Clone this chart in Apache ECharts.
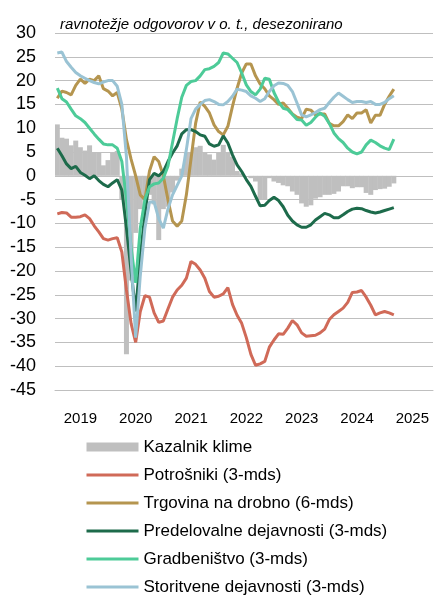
<!DOCTYPE html>
<html>
<head>
    <meta charset="utf-8">
    <title>Kazalniki zaupanja</title>
    <script src="https://cdn.jsdelivr.net/npm/echarts@6/dist/echarts.min.js"></script>
    <style type="text/css">
        html, body { margin: 0; padding: 0; background: #fff; }
        #chart { width: 434px; height: 597px; }
    </style>
</head>
<body>
    <div id="chart"></div>
    <script type="text/javascript">
        // os x: meseci jan 2019 - okt 2025 (podatki do feb 2025)
        var categories = [];
        for (var y = 2019; y <= 2025; y++) {
            for (var m = 1; m <= 12; m++) {
                if (y === 2025 && m > 10) break;
                categories.push(y + '-' + (m < 10 ? '0' + m : m));
            }
        }
        var yearLabels = ['2019', '2020', '2021', '2022', '2023', '2024', '2025'];

        var klima = [10.8, 8, 7.8, 6.4, 7.4, 6, 5.3, 6.4, 5, 4.8, 2.2, 3.3, 5, 5.2,
            -5, -37.5, -22, -12, -7, -4.5, -4, -6, -13.5, -7, -6.5, -3.5,
            -1, 1.5, 5, 5, 6, 6.3, 5, 4.5, 3.4, 4.8, 6.5, 5,
            4, 1, 0.5, 0, -0.5, -1.2, -5, -5, -0.5, -1.2, -1.5, -2,
            -2.2, -3.3, -4, -5.8, -6.5, -6.2, -4.8, -4.5, -4, -4, -3.8, -3.3,
            -2.2, -2.2, -2.6, -2.4, -2.4, -3.6, -4, -3, -2.8, -2.7, -2.3, -1.6];
        var potrosniki = [-8, -7.7, -7.8, -8.7, -8.7, -8.6, -8.2, -9, -10.5, -11.8, -13.2, -13.5, -13.2, -13,
            -16, -24, -31, -35, -28.5, -25.2, -25.5, -28.8, -30.8, -30.5, -28, -25.5,
            -24, -23, -21.5, -18, -18.6, -19.8, -21.5, -24.3, -25.5, -25.3, -24.8, -23.5,
            -27, -29.3, -31, -34, -37.5, -39.8, -39.5, -39, -36, -34.5, -33.2, -33.3,
            -32, -30.4, -31.3, -33, -33.7, -33.6, -33.5, -33, -32.2, -30.2, -29.2, -28.5,
            -27.8, -26.6, -24.5, -24.4, -24.1, -25.5, -27.2, -29.2, -28.8, -28.5, -28.8, -29.2];
        var trgovina = [16.3, 17.8, 17.5, 17, 19, 20.3, 19.4, 20.3, 20, 21, 18.3, 17.8, 16.8, 17.5,
            14, 7.6, 3.5, 0, -4, -5, 1, 4, 3, 0, -5, -9.5,
            -10.6, -9.5, -4, 3.5, 11, 15.5, 14.6, 13.2, 10.7, 9.3, 8.6, 10.4,
            14.6, 18.4, 21.6, 23.5, 23.5, 21, 19.3, 18.3, 16.8, 16, 15, 15.3,
            14.2, 13, 12.3, 12, 14, 13.8, 12.8, 13, 13, 11, 10.5, 10.5,
            11.4, 12.8, 12, 13.2, 13.2, 13.9, 11.1, 12.7, 12.7, 15, 16.7, 18.2];
        var predelovalne = [5.8, 4.2, 2.5, 1.5, 2, 0.7, 0.1, -0.6, 0, -1, -1.8, -2.3, -1.5, -0.8,
            -3, -11, -20, -28.5, -17, -8, -0.8, 0.5, 0, 0.9, 3, 4.8,
            6.3, 8.8, 9.7, 9.7, 9.3, 8.6, 8.3, 6.7, 6.2, 6.5, 8.4, 6.9,
            4.4, 2.3, 0.9, -0.8, -2.2, -4.3, -6.3, -6.2, -5.2, -4.5, -5.2, -6.5,
            -8.3, -9.5, -10.3, -10.8, -10.8, -10.3, -9.3, -8.6, -7.9, -8.2, -8.8, -8.8,
            -8.2, -7.5, -7, -6.8, -6.9, -7.3, -7.6, -7.8, -7.6, -7.3, -7, -6.7];
        var gradbenistvo = [18.4, 16.2, 15.5, 14, 12.6, 12, 11.2, 10, 8.8, 7.7, 6.7, 6.5, 6.5, 5.8,
            3, -5, -15, -22.5, -11, -5, -2.3, -1.7, -1.5, -0.5, 2, 7,
            12, 16.5, 19, 19.8, 20, 21, 22.3, 22.5, 23, 23.8, 25.8, 25.6,
            24.7, 23.8, 21.6, 19.1, 17.7, 17, 18.2, 20.5, 20.3, 17.5, 15.5, 14.2,
            13.9, 12.9, 11.8, 11.7, 10.6, 11.2, 12.3, 13.2, 12.5, 11, 9, 7.8,
            7, 5.8, 5, 4.6, 5, 6.5, 7.5, 7, 6.3, 5.8, 5.5, 7.7];
        var storitvene = [25.8, 26, 24, 22.8, 21.7, 21, 20.5, 20, 19.6, 19.3, 19.7, 20, 20, 18.8,
            15, 4, -17, -34, -21, -11, -5.5, -5.5, -9, -11, -7, -4,
            -2, 0, 5.5, 12, 14, 15, 15.8, 16, 15.6, 15, 14.9, 15.6,
            16.7, 18.2, 18, 17.7, 16.8, 16.3, 15.6, 16.2, 17.7, 18.9, 19.5, 19.4,
            19, 17.7, 15.3, 12.8, 12.4, 12.8, 13.3, 13.9, 14.2, 15.4, 16.5, 17.4,
            16.7, 16, 15.4, 15.6, 15.6, 15.4, 15.6, 15, 15, 15.4, 16.2, 16.8];

        var font = "'Liberation Sans', Arial, sans-serif";

        function lineSeries(name, data, color) {
            return {
                name: name,
                type: 'line',
                data: data,
                symbol: 'none',
                lineStyle: { width: 3, color: color },
                itemStyle: { color: color }
            };
        }
        // legenda: samo črta, brez kroga
        function lineItem(name) {
            return { name: name, itemStyle: { opacity: 0 } };
        }

        var chart = echarts.init(document.getElementById('chart'));
        chart.setOption({
            animation: false,
            textStyle: { fontFamily: font },
            title: {
                text: 'ravnotežje odgovorov v o. t., desezonirano',
                left: 55,
                top: 12,
                textStyle: { fontSize: 15, fontStyle: 'italic', fontWeight: 'normal', color: '#000', fontFamily: font }
            },
            grid: { left: 55, right: 1, top: 33, bottom: 207 },
            legend: {
                orient: 'vertical',
                left: 85,
                top: 438,
                padding: 0,
                itemWidth: 52,
                itemHeight: 9,
                itemGap: 10,
                lineStyle: { width: 3 },
                textStyle: { fontSize: 17, lineHeight: 18, color: '#000', fontFamily: font },
                data: [
                    { name: 'Kazalnik klime', icon: 'rect' },
                    lineItem('Potrošniki (3-mds)'),
                    lineItem('Trgovina na drobno (6-mds)'),
                    lineItem('Predelovalne dejavnosti (3-mds)'),
                    lineItem('Gradbeništvo (3-mds)'),
                    lineItem('Storitvene dejavnosti (3-mds)')
                ]
            },
            xAxis: [{
                type: 'category',
                data: categories,
                position: 'bottom',
                axisLine: { show: false },
                axisTick: { show: false },
                splitLine: { show: false },
                axisLabel: {
                    interval: function (idx) { return idx % 12 === 6; },
                    formatter: function (v, idx) { return yearLabels[Math.floor(idx / 12)]; },
                    fontSize: 15,
                    fontFamily: font,
                    color: '#000',
                    margin: 21,
                    padding: [0, 9, 0, 0]
                }
            }, {
                type: 'category',
                data: categories,
                position: 'bottom',
                axisLine: { onZero: true, lineStyle: { color: '#BFBFBF', width: 1 } },
                axisTick: {
                    interval: function (idx) { return idx % 12 === 0; },
                    length: 5,
                    lineStyle: { color: '#D0D0D0' }
                },
                splitLine: { show: false },
                axisLabel: { show: false }
            }],
            yAxis: {
                type: 'value',
                min: -45,
                max: 30,
                interval: 5,
                axisLine: { show: false },
                axisTick: { show: false },
                splitLine: { lineStyle: { color: '#BFBFBF', width: 1 } },
                axisLabel: { fontSize: 18, color: '#000', margin: 19, fontFamily: font }
            },
            series: [
                {
                    name: 'Kazalnik klime',
                    type: 'bar',
                    data: klima,
                    barWidth: 5,
                    itemStyle: { color: '#BFBFBF', borderWidth: 0 }
                },
                lineSeries('Potrošniki (3-mds)', potrosniki, '#D06A58'),
                lineSeries('Trgovina na drobno (6-mds)', trgovina, '#B5954F'),
                lineSeries('Predelovalne dejavnosti (3-mds)', predelovalne, '#1D6B4B'),
                lineSeries('Gradbeništvo (3-mds)', gradbenistvo, '#4DCB98'),
                lineSeries('Storitvene dejavnosti (3-mds)', storitvene, '#9AC3D4')
            ]
        });
    </script>
</body>
</html>
